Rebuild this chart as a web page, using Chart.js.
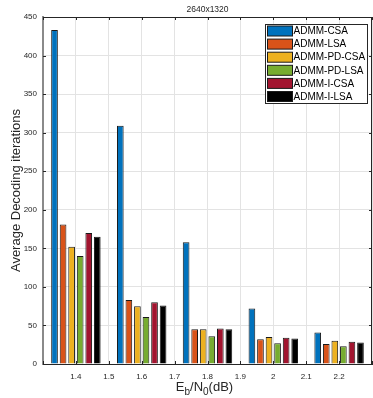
<!DOCTYPE html>
<html>
<head>
<meta charset="utf-8">
<script src="https://cdn.jsdelivr.net/npm/chart.js@4"></script>
<style>
  html, body { margin: 0; padding: 0; background: #fff; }
  canvas { display: block; }
</style>
</head>
<body>
<canvas id="chart" width="373" height="398"></canvas>
<script>
// 分組 (Eb/N0 dB)
const groups = ['1.4', '1.6', '1.8', '2', '2.2'];
// 各演算法名稱
const seriesNames = ['ADMM-CSA', 'ADMM-LSA', 'ADMM-PD-CSA', 'ADMM-PD-LSA', 'ADMM-I-CSA', 'ADMM-I-LSA'];
// 平均解碼迭代次數
const admmCsa   = [433, 309, 158, 72, 41];
const admmLsa   = [181, 83, 45, 32, 26];
const admmPdCsa = [152, 75, 45, 35, 30];
const admmPdLsa = [140, 61, 36, 27, 23];
const admmICsa  = [170, 80, 46, 34, 29];
const admmILsa  = [165, 76, 45, 33, 28];
// 刻度
const yTicks = [0, 50, 100, 150, 200, 250, 300, 350, 400, 450];
const xTickMin = 1.3, xTickMax = 2.3, xTickStep = 0.1;

const seriesValues = [admmCsa, admmLsa, admmPdCsa, admmPdLsa, admmICsa, admmILsa];
const colors = ['#0072BD', '#D95319', '#EDB120', '#77AC30', '#A2142F', '#000000'];

const FONT = 'Liberation Sans, Arial, Helvetica, sans-serif';
const AXIS_COLOR = '#262626';
const GRID_COLOR = '#e3e3e3';

// 外框、刻度、標題、圖例
const matlabLook = {
    id: 'matlabLook',
    afterDraw(chart) {
        const ctx = chart.ctx;
        const a = chart.chartArea;
        const xs = chart.scales.xt;
        const ys = chart.scales.y;
        ctx.save();

        // 內側刻度
        ctx.strokeStyle = AXIS_COLOR;
        ctx.lineWidth = 1;
        const tl = 3;
        xs.ticks.forEach(t => {
            const px = Math.round(xs.getPixelForValue(t.value)) + 0.5;
            ctx.beginPath();
            ctx.moveTo(px, a.bottom); ctx.lineTo(px, a.bottom - tl);
            ctx.moveTo(px, a.top); ctx.lineTo(px, a.top + tl);
            ctx.stroke();
        });
        ys.ticks.forEach(t => {
            const py = Math.round(ys.getPixelForValue(t.value)) + 0.5;
            ctx.beginPath();
            ctx.moveTo(a.left, py); ctx.lineTo(a.left + tl, py);
            ctx.moveTo(a.right, py); ctx.lineTo(a.right - tl, py);
            ctx.stroke();
        });

        // 外框
        ctx.strokeStyle = AXIS_COLOR;
        ctx.beginPath();
        ctx.moveTo(a.left, a.top + 0.5); ctx.lineTo(a.right, a.top + 0.5);
        ctx.moveTo(a.right - 0.5, a.top); ctx.lineTo(a.right - 0.5, a.bottom);
        ctx.stroke();

        // 標題
        ctx.fillStyle = AXIS_COLOR;
        ctx.font = '8.5px ' + FONT;
        ctx.textAlign = 'center';
        ctx.textBaseline = 'middle';
        ctx.fillText('2640x1320', (a.left + a.right) / 2, 10);

        // x 軸標題 E_b/N_0(dB)
        const parts = [
            { t: 'E', sub: false }, { t: 'b', sub: true },
            { t: '/N', sub: false }, { t: '0', sub: true },
            { t: '(dB)', sub: false }
        ];
        const big = '13px ' + FONT, small = '10px ' + FONT;
        let total = 0;
        parts.forEach(p => { ctx.font = p.sub ? small : big; p.w = ctx.measureText(p.t).width; total += p.w; });
        let x = (a.left + a.right) / 2 - total / 2 - 3;
        const baseY = 391;
        ctx.textAlign = 'left';
        ctx.textBaseline = 'alphabetic';
        parts.forEach(p => {
            ctx.font = p.sub ? small : big;
            ctx.fillText(p.t, x, p.sub ? baseY + 4 : baseY);
            x += p.w;
        });

        // 圖例
        const lx = 265.5, ly = 24.5, lw = 102, lh = 79;
        ctx.fillStyle = '#fff';
        ctx.fillRect(lx, ly, lw, lh);
        ctx.strokeStyle = AXIS_COLOR;
        ctx.strokeRect(lx, ly, lw, lh);
        ctx.font = '10px ' + FONT;
        ctx.textBaseline = 'middle';
        chart.data.datasets.forEach((ds, i) => {
            const cy = 31 + i * 13.1;
            ctx.fillStyle = ds.backgroundColor;
            ctx.fillRect(lx + 2, cy - 5, 25, 10);
            ctx.strokeStyle = '#1a1a1a';
            ctx.strokeRect(lx + 2, cy - 5, 25, 10);
            ctx.fillStyle = '#000';
            ctx.fillText(ds.label, lx + 28, cy + 0.5);
        });
        ctx.restore();
    }
};

new Chart(document.getElementById('chart'), {
    type: 'bar',
    data: {
        labels: groups,
        datasets: seriesNames.map((name, i) => ({
            label: name,
            data: seriesValues[i],
            backgroundColor: colors[i],
            borderColor: '#1a1a1a',
            borderWidth: 1,
            categoryPercentage: 0.78,
            barPercentage: 0.78
        }))
    },
    options: {
        responsive: false,
        animation: false,
        layout: { padding: { top: 17, right: 1, left: 0, bottom: 0 } },
        plugins: {
            legend: { display: false },
            tooltip: { enabled: false }
        },
        scales: {
            x: {
                display: false,
                offset: true
            },
            xt: {
                type: 'linear',
                position: 'bottom',
                offset: false,
                min: xTickMin,
                max: xTickMax,
                afterBuildTicks(scale) {
                    const ticks = [];
                    for (let k = 0; k <= Math.round((xTickMax - xTickMin) / xTickStep); k++) {
                        ticks.push({ value: Math.round((xTickMin + k * xTickStep) * 10) / 10 });
                    }
                    scale.ticks = ticks;
                },
                afterFit(scale) {
                    scale.height = 34;
                    scale.paddingLeft = 0;
                    scale.paddingRight = 0;
                },
                grid: { color: GRID_COLOR, drawTicks: false, offset: false },
                border: { color: AXIS_COLOR, width: 1 },
                ticks: {
                    padding: 8,
                    color: AXIS_COLOR,
                    font: { family: FONT, size: 8 },
                    maxRotation: 0,
                    autoSkip: false,
                    callback: v => (v <= xTickMin + 1e-9 || v >= xTickMax - 1e-9) ? '' : String(Math.round(v * 10) / 10)
                }
            },
            y: {
                min: 0,
                max: 450,
                afterBuildTicks(scale) { scale.ticks = yTicks.map(v => ({ value: v })); },
                afterFit(scale) {
                    scale.width = 43;
                    scale.paddingTop = 0;
                    scale.paddingBottom = 0;
                },
                grid: { color: GRID_COLOR, drawTicks: false },
                border: { color: '#8a8a8a', width: 2 },
                ticks: {
                    padding: 6,
                    color: AXIS_COLOR,
                    font: { family: FONT, size: 8 }
                },
                title: {
                    display: true,
                    text: 'Average Decoding iterations',
                    color: AXIS_COLOR,
                    font: { family: FONT, size: 13 },
                    padding: { top: 9, bottom: 0 }
                }
            }
        }
    },
    plugins: [matlabLook]
});
</script>
</body>
</html>
